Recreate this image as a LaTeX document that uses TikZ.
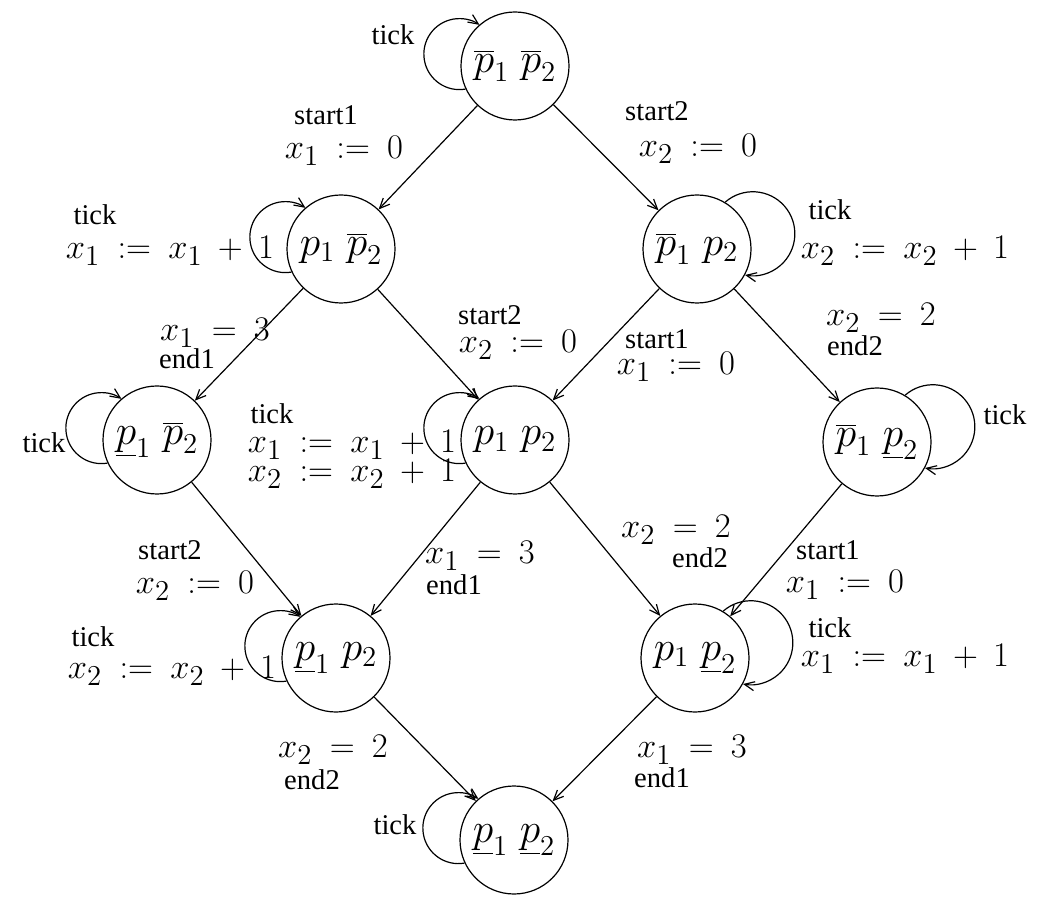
\documentclass[tikz,border=0pt]{standalone}
\usepackage{fontspec}
\setmainfont{Liberation Serif}
\usetikzlibrary{arrows.meta}
\DeclareMathSizes{17.28}{17.28}{14.4}{12}
\DeclareMathSizes{20.74}{20.74}{14.4}{12}
\newcommand\widemath{\thickmuskip=9mu\relax\medmuskip=8mu\relax}

\tikzset{
  state/.style={draw,circle,minimum size=54pt,inner sep=0pt,font=\fontsize{20.74}{24}\selectfont},
  lbl/.style={inner sep=0pt,font=\fontsize{14.3}{16}\selectfont},
  mlbl/.style={inner sep=0pt,font=\fontsize{17.28}{20}\selectfont\widemath}
}

\begin{document}
\begin{tikzpicture}[x=0.5pt,y=-0.5pt,line width=0.6pt,>={Straight Barb[length=5pt,width=4.5pt]}]
\useasboundingbox (0,0) rectangle (1037,913);
% states
\node[state] (nn) at (515,66) {$\overline{p}_1\;\overline{p}_2$};
\node[state] (sn) at (341,249) {$p_1\;\overline{p}_2$};
\node[state] (ns) at (697,249) {$\overline{p}_1\;p_2$};
\node[state] (en) at (157,440) {$\underline{p}_1\;\overline{p}_2$};
\node[state] (ss) at (515,440) {$p_1\;p_2$};
\node[state] (ne) at (877,442) {$\overline{p}_1\;\underline{p}_2$};
\node[state] (es) at (336,658) {$\underline{p}_1\;p_2$};
\node[state] (se) at (695,658) {$p_1\;\underline{p}_2$};
\node[state] (ee) at (514,840) {$\underline{p}_1\;\underline{p}_2$};
% transitions
\draw[->] (nn) -- (sn);
\draw[->] (nn) -- (ns);
\draw[->] (sn) -- (en);
\draw[->] (sn) -- (ss);
\draw[->] (ns) -- (ss);
\draw[->] (ns) -- (ne);
\draw[->] (en) -- (es);
\draw[->] (ss) -- (es);
\draw[->] (ss) -- (se);
\draw[->] (ne) -- (se);
\draw[->] (es) -- (ee);
\draw[->] (se) -- (ee);
% tick loops
\draw[->] (nn.205) arc[start angle=280,end angle=55.5,radius=17.75pt];
\draw[->] (sn.205) arc[start angle=280,end angle=55.5,radius=17.75pt];
\draw[->] (ns.59.7) arc[start angle=131.3,end angle=-100.7,radius=21pt];
\draw[->] (en.205) arc[start angle=280,end angle=55.5,radius=17.75pt];
\draw[->] (ss.205) arc[start angle=280,end angle=55.5,radius=17.75pt];
\draw[->] (ne.59.7) arc[start angle=131.3,end angle=-100.7,radius=21pt];
\draw[->] (es.205) arc[start angle=280,end angle=55.5,radius=17.75pt];
\draw[->] (se.59.7) arc[start angle=131.3,end angle=-100.7,radius=21pt];
\draw[->] (ee.205) arc[start angle=280,end angle=55.5,radius=17.75pt];
% labels
\node[lbl] (t-nn) at (393,35) {tick};
\node[lbl] (a-nn-sn) at (326,115) {start1};
\node[mlbl] (g-nn-sn) at (344,151) {$x_1 := 0$};
\node[lbl] (a-nn-ns) at (657,111) {start2};
\node[mlbl] (g-nn-ns) at (698,149) {$x_2 := 0$};
\node[lbl] (t-sn) at (95,215) {tick};
\node[mlbl] (u-sn) at (170,251) {$x_1 := x_1 + 1$};
\node[lbl] (t-ns) at (830,210) {tick};
\node[mlbl] (u-ns) at (905,251) {$x_2 := x_2 + 1$};
\node[mlbl] (g-sn-en) at (215,333) {$x_1 = 3$};
\node[lbl] (a-sn-en) at (187,359) {end1};
\node[lbl] (a-sn-ss) at (490,315) {start2};
\node[mlbl] (g-sn-ss) at (518,345) {$x_2 := 0$};
\node[lbl] (a-ns-ss) at (657,339) {start1};
\node[mlbl] (g-ns-ss) at (676,367) {$x_1 := 0$};
\node[mlbl] (g-ns-ne) at (881,318) {$x_2 = 2$};
\node[lbl] (a-ns-ne) at (855,346) {end2};
\node[lbl] (t-en) at (44,443) {tick};
\node[lbl] (t-ss) at (272,414) {tick};
\node[mlbl] (u1-ss) at (352,445) {$x_1 := x_1 + 1$};
\node[mlbl] (u2-ss) at (352,474) {$x_2 := x_2 + 1$};
\node[lbl] (t-ne) at (1005,415) {tick};
\node[lbl] (a-en-es) at (170,550) {start2};
\node[mlbl] (g-en-es) at (195,586) {$x_2 := 0$};
\node[mlbl] (g-ss-es) at (480,556) {$x_1 = 3$};
\node[lbl] (a-ss-es) at (454,585) {end1};
\node[mlbl] (g-ss-se) at (676,530) {$x_2 = 2$};
\node[lbl] (a-ss-se) at (700,558) {end2};
\node[lbl] (a-ne-se) at (828,550) {start1};
\node[mlbl] (g-ne-se) at (845,585) {$x_1 := 0$};
\node[lbl] (t-es) at (93,637) {tick};
\node[mlbl] (u-es) at (172,671) {$x_2 := x_2 + 1$};
\node[lbl] (t-se) at (830,628) {tick};
\node[mlbl] (u-se) at (905,659) {$x_1 := x_1 + 1$};
\node[mlbl] (g-es-ee) at (333,750) {$x_2 = 2$};
\node[lbl] (a-es-ee) at (312,780) {end2};
\node[mlbl] (g-se-ee) at (692,750) {$x_1 = 3$};
\node[lbl] (a-se-ee) at (662,778) {end1};
\node[lbl] (t-ee) at (395,825) {tick};
\end{tikzpicture}
\end{document}
